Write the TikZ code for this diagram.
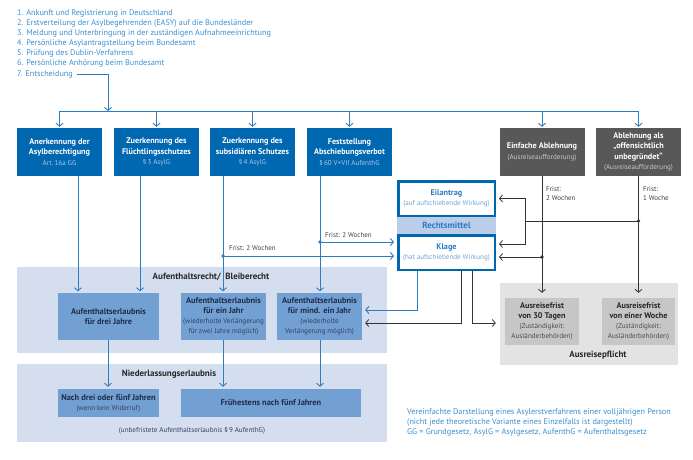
\documentclass[tikz,border=0pt]{standalone}
\usepackage{fontspec}
\setmainfont{PT Sans}
\usetikzlibrary{arrows.meta,calc}
\definecolor{dkblue}{HTML}{0067B1}
\definecolor{lineblue}{HTML}{2B7CC0}
\definecolor{txtblue}{HTML}{3B8FD0}
\definecolor{regblue}{HTML}{D5DEEF}
\definecolor{innerblue}{HTML}{72A0D3}
\definecolor{bandblue}{HTML}{BBCDE9}
\definecolor{boxgray}{HTML}{585858}
\definecolor{linegray}{HTML}{333333}
\definecolor{reggray}{HTML}{E3E3E3}
\definecolor{innergray}{HTML}{C6C6C6}
\definecolor{subblue}{HTML}{A8C8EC}
\definecolor{subgray}{HTML}{C8C8C8}
\definecolor{titleblue}{HTML}{2A7CC4}
\definecolor{ltsubblue}{HTML}{6FA6D8}
\definecolor{darktxt}{HTML}{1F2D4A}
\definecolor{subdark}{HTML}{34415E}
\newcommand\lite[2]{{\mdseries\color{#1}\fontsize{7.1}{10.5}\selectfont #2}}
\begin{document}
\begin{tikzpicture}[x=1pt,y=-1pt,
  listtxt/.style={inner sep=0pt, anchor=base west, text=txtblue, font=\fontsize{8.2}{10}\selectfont},
  topbox/.style={minimum width=85pt, minimum height=48pt, inner sep=0pt, align=center,
     font=\fontsize{8.2}{10.5}\selectfont\bfseries, text=white},
  bluebox/.style={topbox, fill=dkblue},
  graybox/.style={topbox, fill=boxgray},
  region/.style={inner sep=0pt},
  regtitle/.style={inner sep=0pt, font=\fontsize{9}{10}\selectfont\bfseries, text=black!85},
  innerbox/.style={fill=innerblue, inner sep=0pt, align=center,
     font=\fontsize{8.4}{10}\selectfont\bfseries, text=darktxt},
  ausbox/.style={fill=innergray, inner sep=0pt, align=center, minimum height=47pt,
     font=\fontsize{8.2}{10}\selectfont\bfseries, text=black!85},
  rmbox/.style={draw=dkblue, line width=2.5pt, fill=white, minimum width=96.5pt,
     minimum height=34.5pt, inner sep=0pt, align=center,
     font=\fontsize{8.2}{10}\selectfont\bfseries, text=titleblue},
  fristlbl/.style={inner sep=0pt, anchor=west, font=\fontsize{7}{9}\selectfont, text=black!75},
  fristlbl2/.style={inner sep=0pt, anchor=north west, align=left, font=\fontsize{7}{9}\selectfont, text=black!75},
  notetxt/.style={inner sep=0pt, anchor=base west, text=txtblue, font=\fontsize{8.2}{10}\selectfont},
  blueline/.style={draw=lineblue, line width=0.9pt},
  grayline/.style={draw=linegray, line width=0.8pt},
  arr/.style={-{Straight Barb[length=3pt,width=7pt]}},
  jdot/.style={circle, inner sep=0pt, minimum size=3.6pt},
]
\useasboundingbox (0,0) rectangle (693,460);

% list
\node[listtxt] (l1) at (17,16) {1. Ankunft und Registrierung in Deutschland};
\node[listtxt] (l2) at (17,26) {2. Erstverteilung der Asylbegehrenden (EASY) auf die Bundesländer};
\node[listtxt] (l3) at (17,36) {3. Meldung und Unterbringung in der zuständigen Aufnahmeeinrichtung};
\node[listtxt] (l4) at (17,46) {4. Persönliche Asylantragstellung beim Bundesamt};
\node[listtxt] (l5) at (17,56) {5. Prüfung des Dublin-Verfahrens};
\node[listtxt] (l6) at (17,66) {6. Persönliche Anhörung beim Bundesamt};
\node[listtxt] (l7) at (17,76) {7. Entscheidung};

% top boxes
\node[bluebox] (b1) at (59.5,152) {Anerkennung der\\Asylberechtigung\\\lite{subblue}{Art.\,16a GG}};
\node[bluebox] (b2) at (156.5,152) {Zuerkennung des\\Flüchtlingsschutzes\\\lite{subblue}{§\,3 AsylG}};
\node[bluebox] (b3) at (252.5,152) {Zuerkennung des\\subsidiären Schutzes\\\lite{subblue}{§\,4 AsylG}};
\node[bluebox] (b4) at (349.5,152) {Feststellung\\Abschiebungsverbot\\\lite{subblue}{§\,60 V+VII AufenthG}};
\node[graybox] (b5) at (542,152) {Einfache Ablehnung\\\lite{subgray}{(Ausreiseaufforderung)}};
\node[graybox] (b6) at (638.5,152) {Ablehnung als\\„offensichtlich\\unbegründet“\\\lite{subgray}{(Ausreiseaufforderung)}};

% bus
\coordinate (bus7) at (108,111);
\draw[blueline, arr] ([xshift=4pt]l7.east) -| (bus7);
\draw[blueline] (b1.north |- bus7) -- (b6.north |- bus7);
\foreach \b in {b1,b2,b3,b4,b5,b6}
  \draw[blueline, arr, shorten >=1pt] (\b.north |- bus7) -- (\b.north);

% regions
\node[region, fill=regblue, minimum width=370pt, minimum height=86pt] (reg1) at (202,310) {};
\node[regtitle] (t1) at (211,277) {Aufenthaltsrecht/\ \ Bleiberecht};
\node[innerbox, minimum width=101pt, minimum height=47pt] (A) at (108.5,316.5) {Aufenthaltserlaubnis\\für drei Jahre};
\node[innerbox, minimum width=85pt, minimum height=47pt] (B) at (223.5,316.5) {Aufenthaltserlaubnis\\für ein Jahr\\\lite{subdark}{(wiederholte Verlängerung}\\\lite{subdark}{für zwei Jahre möglich)}};
\node[innerbox, minimum width=85pt, minimum height=47pt] (C) at (319.5,316.5) {Aufenthaltserlaubnis\\für mind. ein Jahr\\\lite{subdark}{(wiederholte}\\\lite{subdark}{Verlängerung möglich)}};

\node[region, fill=regblue, minimum width=370pt, minimum height=78pt] (reg2) at (202,403) {};
\node[regtitle] (t2) at (169,374) {Niederlassungserlaubnis};
\node[innerbox, minimum width=101pt, minimum height=28pt] (D) at (108.5,403) {Nach drei oder fünf Jahren\\\lite{subdark}{(wenn kein Widerruf)}};
\node[innerbox, minimum width=180pt, minimum height=28pt] (E) at (271,403) {Frühestens nach fünf Jahren};
\node[inner sep=0pt, font=\fontsize{7.1}{9}\selectfont, text=subdark] (t3) at (192,431) {(unbefristete Aufenthaltserlaubnis §\,9 AufenthG)};

\node[region, fill=reggray, minimum width=178pt, minimum height=82pt] (aus) at (589,324) {};
\node[ausbox, minimum width=74pt] (F) at (542,321.5) {Ausreisefrist\\von 30 Tagen\\\lite{black!70}{(Zuständigkeit:}\\\lite{black!70}{Ausländerbehörden)}};
\node[ausbox, minimum width=73pt] (G) at (638.5,321.5) {Ausreisefrist\\von einer Woche\\\lite{black!70}{(Zuständigkeit:}\\\lite{black!70}{Ausländerbehörden)}};
\node[regtitle] (t4) at (598,355) {Ausreisepflicht};

% Rechtsmittel
\node[fill=bandblue, minimum width=99pt, minimum height=19pt, inner sep=0pt,
  font=\fontsize{9}{10}\selectfont\bfseries, text=titleblue] (band) at (446.5,225.5) {Rechtsmittel};
\node[rmbox] (ea) at (446.5,198.5) {Eilantrag\\\lite{ltsubblue}{(auf aufschiebende Wirkung)}};
\node[rmbox] (kl) at (446.5,252.5) {Klage\\\lite{ltsubblue}{(hat aufschiebende Wirkung)}};

% blue down lines
\coordinate (x1) at (78,0);
\coordinate (x2) at (140,0);
\coordinate (x3) at (223,0);
\coordinate (x4) at (320,0);
\draw[blueline, arr, shorten >=1.5pt] (b1.south -| x1) -- (A.north -| x1);
\draw[blueline, arr, shorten >=1.5pt] (b2.south -| x2) -- (A.north -| x2);
\draw[blueline, arr, shorten >=1.5pt] (b3.south -| x3) -- (B.north -| x3);
\draw[blueline, arr, shorten >=1.5pt] (b4.south -| x4) -- (C.north -| x4);

% Frist lines to Klage
\node[jdot, fill=lineblue] (d3) at (223,256) {};
\node[jdot, fill=lineblue] (d4) at (320,242) {};
\draw[blueline, arr, shorten >=3pt] (d3.center) -- (kl.west |- d3);
\draw[blueline, arr, shorten >=3pt] (d4.center) -- (kl.west |- d4);
\node[fristlbl] (f3) at (229,248.5) {Frist: 2 Wochen};
\node[fristlbl] (f4) at (325,235.5) {Frist: 2 Wochen};

% lower blue lines
\coordinate (x5) at (108,0);
\draw[blueline, arr, shorten >=2pt] (A.south -| x5) -- (D.north -| x5);
\draw[blueline, arr, shorten >=2pt] (B.south -| x3) -- (E.north -| x3);
\draw[blueline, arr, shorten >=2pt] (C.south -| x4) -- (E.north -| x4);

% gray right side
\draw[grayline, arr, shorten >=5pt] (b5.south) -- (F.north);
\draw[grayline, arr, shorten >=5pt] (b6.south) -- (G.north);
\node[fristlbl2] (f5) at (546,186) {Frist:\\2 Wochen};
\node[fristlbl2] (f6) at (643,186) {Frist:\\1 Woche};
\node[jdot, fill=linegray] (d6) at (638.5,221) {};
\node[jdot, fill=linegray] (d5) at (542,257) {};
\coordinate (j1) at (525,221);
\coordinate (j2) at (525,244);
\draw[grayline] (d6.center) -- (j1);
\draw[grayline, arr, shorten >=3pt] (j1) |- (ea.east);
\draw[grayline, arr, shorten >=3pt] (j1) |- (kl.east |- j2);
\draw[grayline, arr, shorten >=3pt] (d5.center) -- (kl.east |- d5);

% Klage outputs
\coordinate (k1) at (417,310);
\coordinate (k2) at (461,323);
\coordinate (k3) at (472,323);
\draw[blueline, arr, shorten >=3pt] (kl.south -| k1) |- (C.east |- k1);
\draw[grayline, arr, shorten >=3pt] (kl.south -| k2) |- (C.east |- k2);
\draw[grayline, arr, shorten >=4pt] (kl.south -| k3) |- (aus.west |- k3);

% note
\node[notetxt] (n1) at (407,414) {Vereinfachte Darstellung eines Asylerstverfahrens einer volljährigen Person};
\node[notetxt] (n2) at (407,424) {(nicht jede theoretische Variante eines Einzelfalls ist dargestellt)};
\node[notetxt] (n3) at (407,434) {GG = Grundgesetz, AsylG = Asylgesetz, AufenthG = Aufenthaltsgesetz};
\end{tikzpicture}
\end{document}
